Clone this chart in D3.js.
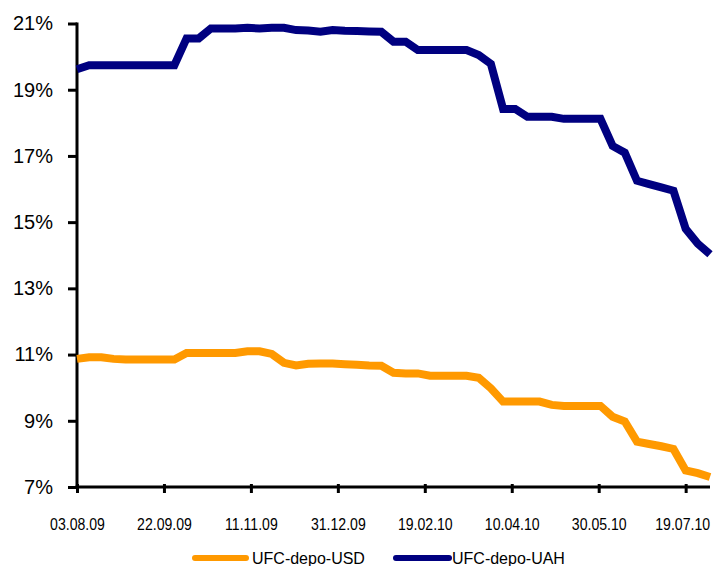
<!DOCTYPE html>
<html>
<head>
<meta charset="utf-8">
<script src="https://cdn.jsdelivr.net/npm/d3@7"></script>
<style>
  html, body { margin: 0; padding: 0; background: #fff; }
  svg { display: block; font-family: "Liberation Sans", Arial, sans-serif; }
</style>
</head>
<body>
<svg id="chart" width="713" height="566"></svg>
<script>
const dates = [
  "03.08.09","10.08.09","17.08.09","24.08.09","31.08.09","07.09.09","14.09.09","21.09.09","28.09.09",
  "05.10.09","12.10.09","19.10.09","26.10.09","02.11.09","09.11.09","16.11.09","23.11.09","30.11.09",
  "07.12.09","14.12.09","21.12.09","28.12.09","04.01.10","11.01.10","18.01.10","25.01.10","01.02.10",
  "08.02.10","15.02.10","22.02.10","01.03.10","08.03.10","15.03.10","22.03.10","29.03.10","05.04.10",
  "12.04.10","19.04.10","26.04.10","03.05.10","10.05.10","17.05.10","24.05.10","31.05.10","07.06.10",
  "14.06.10","21.06.10","28.06.10","05.07.10","12.07.10","19.07.10","26.07.10","02.08.10"
];
const usdValues = [
  10.87,10.92,10.92,10.87,10.85,10.85,10.85,10.85,10.85,
  11.05,11.05,11.05,11.05,11.05,11.10,11.10,11.02,10.75,
  10.67,10.72,10.73,10.73,10.71,10.69,10.67,10.66,10.45,
  10.43,10.43,10.36,10.36,10.36,10.36,10.30,9.98,9.58,
  9.58,9.58,9.58,9.48,9.45,9.45,9.45,9.45,9.12,
  8.98,8.37,8.30,8.23,8.15,7.50,7.42,7.30
];
const uahValues = [
  19.62,19.74,19.74,19.74,19.74,19.74,19.74,19.74,19.74,
  20.55,20.55,20.85,20.85,20.85,20.87,20.85,20.87,20.87,
  20.80,20.79,20.75,20.80,20.78,20.77,20.76,20.75,20.45,
  20.45,20.20,20.20,20.20,20.20,20.20,20.05,19.78,18.42,
  18.42,18.18,18.18,18.18,18.12,18.12,18.12,18.12,17.30,
  17.10,16.25,16.15,16.05,15.95,14.80,14.35,14.03
];
const xTickLabels = ["03.08.09","22.09.09","11.11.09","31.12.09","19.02.10","10.04.10","30.05.10","19.07.10"];
const yTickValues = [7, 9, 11, 13, 15, 17, 19, 21];
const seriesNames = ["UFC-depo-USD", "UFC-depo-UAH"];
const seriesColors = ["#FF9900", "#000080"];

const parse = d3.timeParse("%d.%m.%y");
const fmt = d3.timeFormat("%d.%m.%y");
const svg = d3.select("#chart");

const x = d3.scaleTime()
  .domain([parse(dates[0]), parse(dates[dates.length - 1])])
  .range([77, 710]);
const y = d3.scaleLinear().domain([7, 21]).range([487, 23.5]);

// Axes
const yAxis = svg.append("g").attr("transform", "translate(77,0)")
  .call(d3.axisLeft(y).tickValues(yTickValues).tickSize(9).tickPadding(15)
    .tickFormat(d => d + "%"));
yAxis.select(".domain").attr("stroke", "#000").attr("stroke-width", 3)
  .attr("d", `M0,${y(21) - 1}V${y(7) + 1.5}`);
yAxis.selectAll(".tick line").attr("stroke", "#000").attr("stroke-width", 3);
yAxis.selectAll(".tick text").attr("fill", "#000").style("font-size", "20px")
  .style("font-family", "'Liberation Sans', Arial, sans-serif");

const xAxis = svg.append("g").attr("transform", "translate(0,487)")
  .call(d3.axisBottom(x).tickValues(xTickLabels.map(parse)).tickSize(6).tickPadding(26)
    .tickFormat(fmt));
xAxis.select(".domain").attr("stroke", "#000").attr("stroke-width", 3)
  .attr("d", `M${x.range()[0] - 1.5},0H${x.range()[1]}`);
xAxis.selectAll(".tick line").attr("stroke", "#000").attr("stroke-width", 3).attr("y1", -3);
// narrow (condensed) tick labels, as in the reference
xAxis.selectAll(".tick text").attr("fill", "#000").style("font-size", "16px")
  .style("font-family", "'Liberation Sans', Arial, sans-serif")
  .attr("transform", "scale(0.88,1)");
// keep the last label inside the picture
xAxis.selectAll(".tick text").filter((d, i, n) => i === n.length - 1).attr("x", -4);

// Lines
const line = d3.line().x(d => x(d.date)).y(d => y(d.value));
[usdValues, uahValues].forEach((vals, k) => {
  const data = vals.map((v, i) => ({ date: parse(dates[i]), value: v }));
  svg.append("path").datum(data)
    .attr("fill", "none")
    .attr("stroke", seriesColors[k])
    .attr("stroke-width", 8)
    .attr("stroke-linejoin", "miter")
    .attr("d", line);
});

// Legend
const legendItems = [
  { x1: 195, x2: 246, tx: 252 },
  { x1: 396, x2: 449, tx: 452 }
];
legendItems.forEach((it, k) => {
  svg.append("line").attr("x1", it.x1).attr("x2", it.x2).attr("y1", 558).attr("y2", 558)
    .attr("stroke", seriesColors[k]).attr("stroke-width", 6).attr("stroke-linecap", "round");
  svg.append("text").attr("x", it.tx).attr("y", 558).attr("dy", "0.36em")
    .style("font-size", "16px").attr("fill", "#000").text(seriesNames[k]);
});
</script>
</body>
</html>
